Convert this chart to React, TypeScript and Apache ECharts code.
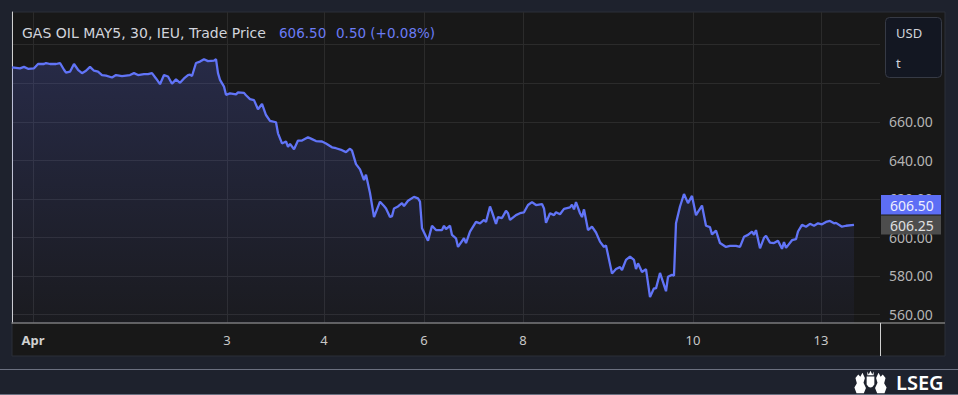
import React, { useEffect, useRef } from 'react';
import * as echarts from 'echarts';

// ---- data (30-minute bars, bar index from the left edge of the plot) ----
const bars = [
  0, 4, 6, 8, 11, 13, 16, 17, 19, 22, 24, 26, 27, 29, 31, 33, 35, 37, 39, 41, 43, 45, 47, 50, 52, 55, 57, 59, 61, 63,
  66, 68, 70, 72, 74, 76, 78, 80, 82, 84, 86, 88, 89, 90, 92, 94, 96, 98, 101, 102, 103, 104, 106, 107, 109, 112, 113, 116, 117, 119,
  121, 123, 125, 127, 129, 132, 133, 135, 137, 138, 139, 141, 143, 145, 148, 150, 152, 155, 157, 160, 162, 165, 167, 169, 170, 172, 174, 176, 177, 179,
  181, 184, 186, 187, 189, 190, 191, 193, 195, 196, 198, 201, 203, 204, 205, 208, 210, 212, 215, 216, 217, 219, 220, 222, 223, 226, 227, 229, 232, 234,
  236, 237, 239, 240, 242, 243, 245, 247, 248, 249, 252, 254, 256, 258, 260, 262, 265, 266, 267, 269, 271, 272, 274, 276, 279, 280, 281, 282, 284, 285,
  286, 288, 290, 292, 294, 296, 297, 300, 302, 304, 305, 307, 309, 311, 312, 313, 315, 317, 319, 321, 322, 324, 327, 328, 330, 331, 332, 334, 336, 338,
  340, 342, 343, 345, 347, 349, 350, 352, 354, 357, 359, 362, 364, 366, 368, 370, 371, 372, 374, 376, 377, 379, 381, 383, 385, 386, 387, 390, 392, 393,
  395, 397, 399, 401, 403, 405, 407, 409, 411, 412, 415, 417, 421,
];
const prices = [
  688.25, 687.75, 688.5, 687.5, 687.75, 690, 690, 690.5, 690, 690, 690.5, 687, 685.5, 686, 690, 687, 685.25, 686.5, 688.5, 686.5, 686, 684.25, 684, 683, 684.25, 683.75, 684, 684.25, 685.25, 684.25,
  684.75, 684.75, 685.25, 682.5, 679.5, 684.25, 683.5, 679.75, 682, 680.25, 682.5, 684.25, 684.5, 683.75, 690.5, 691.25, 692.5, 691.5, 691.75, 692.5, 685.25, 681.75, 678.25, 674, 674.75, 674.25, 675.25, 675, 673.75, 671.75,
  671.25, 666.5, 669.25, 663.5, 660.5, 659.75, 654, 648.75, 649.75, 647, 648.5, 645.75, 650.25, 650.25, 652, 651, 650, 649.75, 648.75, 646.75, 646.25, 645.25, 644.25, 646, 645, 638, 635.25, 629.75, 632.5, 623,
  610.5, 618.5, 616.25, 615, 610.5, 611, 615, 616, 617.75, 616.25, 619, 621, 620.25, 618.5, 604.75, 598.25, 606, 603.75, 603.75, 606, 604.25, 606, 601.25, 599.5, 595, 599.5, 597, 603, 608, 607.25,
  609, 608, 616, 613.25, 607, 610.5, 610, 613.75, 612.5, 609, 611.5, 612.5, 613, 616.75, 618.25, 616.75, 617.25, 615, 607.5, 612.5, 611.5, 613, 612, 614.75, 615.5, 617, 614.5, 618.25, 612.5, 610.5,
  614.5, 603.75, 605.5, 602.5, 597.75, 595, 595.75, 581.25, 583.5, 584.5, 583, 588.25, 590, 588.25, 583.5, 586.5, 582, 583.5, 569, 573.5, 573.5, 581.5, 572, 579.5, 580.5, 580, 607.25, 616, 622.5, 617.75,
  621.5, 611.5, 613.25, 616.5, 606, 605.25, 601.5, 603.5, 597, 595, 595.5, 595.5, 595, 600.25, 601.25, 603, 601.25, 603.75, 594.25, 599.75, 600.75, 597.25, 597, 598.25, 594, 597.5, 594.5, 598.5, 599, 603,
  606.5, 605.5, 607, 606, 607.25, 606.75, 608, 608.5, 607.25, 607.5, 605.5, 606, 606.5,
];

const xTickBars = [10.5, 107.5, 156, 206, 255.5, 340.5, 404.5];
const xTickLabels = ['Apr', '3', '4', '6', '8', '10', '13'];
const yGridValues = [560, 580, 600, 620, 640, 660, 680, 700];
const yLabelValues = [560, 580, 600, 620, 640, 660];

const headerTitle = 'GAS OIL MAY5, 30, IEU, Trade Price';
const headerLast = '606.50';
const headerChange = '0.50 (+0.08%)';
const tagLast = '606.50';
const tagSecond = '606.25';
const currency = 'USD';
const unit = 't';
const brand = 'LSEG';

const FONT = "'Noto Sans', 'DejaVu Sans', sans-serif";
const HFONT = "'DejaVu Sans', 'Noto Sans', sans-serif";
const LINE = '#6174f7';

const crestPath =
  'M10 58 L4 44 L11 33 L7 20 L15 11 L21 17 L27 7 L34 20 L30 32 L37 45 L31 58 Z ' +
  'M39 16 L61 16 L61 36 Q50 52 39 36 Z ' +
  'M90 58 L96 44 L89 33 L93 20 L85 11 L79 17 L73 7 L66 20 L70 32 L63 45 L69 58 Z ' +
  'M41 4 L45 11 L50 2 L55 11 L59 4 L59 13 L41 13 Z';

let registered = false;

export default function App() {
  const ref = useRef<HTMLDivElement>(null);
  useEffect(() => {
    if (!ref.current) return;
    if (!registered) {
      echarts.graphic.registerShape('logo', echarts.graphic.extendPath(crestPath, {}) as any);
      registered = true;
    }
    const chart = echarts.init(ref.current, undefined, { renderer: 'svg' });
    const data = bars.map((b, i) => [b, prices[i]]);
    chart.setOption({
      animation: false,
      backgroundColor: '#1e222d',
      grid: { left: 12, top: 12, right: 78, bottom: 72, containLabel: false },
      xAxis: {
        type: 'value',
        min: 0,
        max: 434,
        axisLine: { show: true, lineStyle: { color: '#7a7a7a', width: 1.5 } },
        axisTick: { show: false, customValues: xTickBars },
        splitLine: { show: true, lineStyle: { color: '#2b2b2b', width: 1 } },
        axisLabel: {
          customValues: xTickBars,
          margin: 10,
          color: '#c8c8c8',
          fontSize: 13,
          fontFamily: FONT,
          formatter: (v: number) => {
            const i = xTickBars.indexOf(v);
            const s = i >= 0 ? xTickLabels[i] : '';
            return isNaN(Number(s)) ? '{m|' + s + '}' : s;
          },
          rich: { m: { fontWeight: 'bold', fontSize: 13, color: '#d0d0d0', fontFamily: FONT } },
        },
      },
      yAxis: {
        type: 'value',
        position: 'right',
        min: 555.5,
        max: 717,
        axisLine: { show: true, lineStyle: { color: '#d0d0d0', width: 1 } },
        axisTick: { show: false, customValues: yGridValues },
        splitLine: { show: true, lineStyle: { color: '#2b2b2b', width: 1 } },
        axisLabel: {
          customValues: yLabelValues,
          margin: 9,
          color: '#b4b4b4',
          fontSize: 14,
          fontFamily: FONT,
          formatter: (v: number) => v.toFixed(2),
        },
      },
      series: [
        {
          type: 'line',
          data,
          symbol: 'none',
          smooth: false,
          lineStyle: { color: LINE, width: 2.3 },
          areaStyle: {
            color: new echarts.graphic.LinearGradient(0, 0, 0, 1, [
              { offset: 0, color: 'rgba(94,110,245,0.3)' },
              { offset: 1, color: 'rgba(94,110,245,0.05)' },
            ]),
          },
          z: 3,
        },
      ],
      graphic: [
        { type: 'rect', z: -10, shape: { x: 12, y: 12, width: 933, height: 344 }, style: { fill: '#181818', stroke: '#2a2e39', lineWidth: 1 } },
        { type: 'line', z: 5, shape: { x1: 880, y1: 323, x2: 945, y2: 323 }, style: { stroke: '#7a7a7a', lineWidth: 1.5 } },
        { type: 'line', z: 5, shape: { x1: 880.5, y1: 323, x2: 880.5, y2: 356 }, style: { stroke: '#d0d0d0', lineWidth: 1 } },
        { type: 'line', z: 5, shape: { x1: 0, y1: 369.5, x2: 958, y2: 369.5 }, style: { stroke: '#6b7080', lineWidth: 1 } },
        { type: 'line', z: 5, shape: { x1: 0, y1: 394.5, x2: 958, y2: 394.5 }, style: { stroke: '#6b7080', lineWidth: 1 } },
        { type: 'text', z: 10, x: 22, y: 33, style: { text: headerTitle, fill: '#d1d4dc', fontSize: 14, fontFamily: HFONT, verticalAlign: 'middle' } },
        { type: 'text', z: 10, x: 279, y: 33, style: { text: headerLast, fill: '#6b7cf5', fontSize: 13.5, fontFamily: HFONT, verticalAlign: 'middle' } },
        { type: 'text', z: 10, x: 336, y: 33, style: { text: headerChange, fill: '#6b7cf5', fontSize: 13.5, fontFamily: HFONT, verticalAlign: 'middle' } },
        { type: 'rect', z: 10, shape: { x: 885.5, y: 17.5, width: 56, height: 60, r: 4 }, style: { fill: '#131722', stroke: '#363a45', lineWidth: 1 } },
        { type: 'text', z: 11, x: 896, y: 33, style: { text: currency, fill: '#d1d4dc', fontSize: 13, fontFamily: FONT, verticalAlign: 'middle' } },
        { type: 'text', z: 11, x: 896, y: 63, style: { text: unit, fill: '#d1d4dc', fontSize: 13, fontFamily: FONT, verticalAlign: 'middle' } },
        { type: 'rect', z: 10, shape: { x: 881, y: 195, width: 60, height: 19.5 }, style: { fill: '#5d6ef5' } },
        { type: 'text', z: 11, x: 890, y: 205, style: { text: tagLast, fill: '#eef0ff', fontSize: 14, fontFamily: FONT, verticalAlign: 'middle' } },
        { type: 'rect', z: 10, shape: { x: 881, y: 215.5, width: 60, height: 19 }, style: { fill: 'rgba(80,80,80,0.95)' } },
        { type: 'text', z: 11, x: 890, y: 225, style: { text: tagSecond, fill: '#e0e0e0', fontSize: 14, fontFamily: FONT, verticalAlign: 'middle' } },
        { type: 'logo', z: 10, x: 853, y: 370, scaleX: 0.35, scaleY: 0.4, style: { fill: '#ffffff' } },
        { type: 'text', z: 10, x: 896, y: 382, style: { text: brand, fill: '#ffffff', fontSize: 20, fontWeight: 600, fontFamily: FONT, verticalAlign: 'middle' } },
      ],
    });
    return () => chart.dispose();
  }, []);
  return <div ref={ref} style={{ position: 'absolute', left: 0, top: 0, width: 958, height: 395 }} />;
}
